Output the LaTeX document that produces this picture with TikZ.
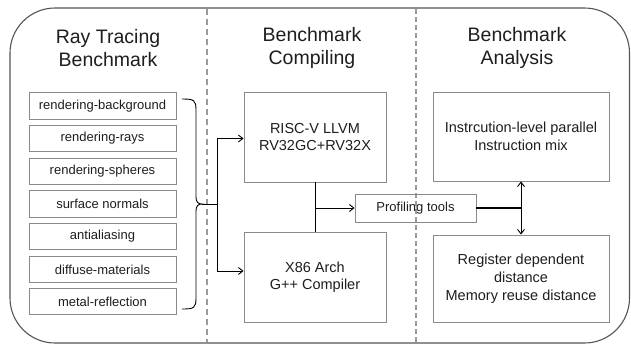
\documentclass[tikz,border=0pt]{standalone}
\usepackage{fontspec}
\setmainfont{Liberation Sans}
\usetikzlibrary{arrows.meta}
\definecolor{boxgray}{HTML}{8A8A8A}
\definecolor{framegray}{HTML}{555555}
\definecolor{dashgray}{HTML}{9A9A9A}
\definecolor{txt}{HTML}{1E1E1E}
\tikzset{
  x=1pt,y=-1pt,
  itembox/.style={draw=boxgray,line width=0.9pt,minimum width=147pt,minimum height=26.5pt,inner sep=0pt,font=\fontsize{13}{15}\selectfont,text=txt},
  bigbox/.style={draw=boxgray,line width=0.9pt,minimum width=142pt,minimum height=90pt,inner sep=0pt,align=center,font=\fontsize{14.5}{17}\selectfont,text=txt},
  anbox/.style={draw=boxgray,line width=0.9pt,minimum width=176pt,inner sep=0pt,align=center,font=\fontsize{14.5}{18}\selectfont,text=txt},
  title/.style={align=center,font=\fontsize{19.5}{23}\selectfont,text=txt},
  conn/.style={line width=0.9pt,black},
  arr/.style={conn,-{Straight Barb[length=4.5pt,width=7pt]}},
}
\begin{document}
\begin{tikzpicture}
\useasboundingbox (0,0) rectangle (631,346);
\fill[white] (0,0) rectangle (631,346);
% outer frame
\draw[framegray,line width=1.1pt,rounded corners=45pt] (10,8) rectangle (629.5,343);
% separators
\draw[dashgray,line width=2pt,dash pattern=on 6pt off 4pt] (207,9) -- (207,342);
\draw[dashgray,line width=1.2pt,dash pattern=on 5pt off 3pt] (416,9) -- (416,342);
% titles
\node[title] (t1) at (108,48) {Ray Tracing\\Benchmark};
\node[title] (t2) at (312,48) {Benchmark\\Compiling};
\node[title] (t3) at (517,48) {Benchmark\\Analysis};
% left items
\node[itembox] (b1) at (102.5,106) {rendering-background};
\node[itembox] (b2) at (102.5,138.5) {rendering-rays};
\node[itembox] (b3) at (102.5,171.5) {rendering-spheres};
\node[itembox] (b4) at (102.5,204) {surface normals};
\node[itembox] (b5) at (102.5,236.5) {antialiasing};
\node[itembox] (b6) at (102.5,269.5) {diffuse-materials};
\node[itembox] (b7) at (102.5,301.5) {metal-reflection};
% brace
\coordinate (bt) at (202,204);
\draw[conn] (182,99) .. controls (194,99) and (196,100) .. (196,110) -- (196,197) .. controls (196,202) and (198,204) .. (bt)
            .. controls (198,204) and (196,206) .. (196,211) -- (196,298) .. controls (196,308) and (194,309) .. (182,309);
\coordinate (j) at (217,204);
% compile boxes
\node[bigbox] (risc) at (315,137) {RISC-V LLVM\\RV32GC+RV32X};
\node[bigbox] (x86) at (315,277) {X86 Arch\\G++ Compiler};
\draw[conn] (bt) -- (j);
\draw[arr] (j) |- ([yshift=-1.5pt]risc.west);
\draw[arr] (j) |- ([yshift=6pt]x86.west);
% profiling
\node[draw=boxgray,line width=0.9pt,minimum width=121pt,minimum height=28pt,inner sep=0pt,font=\fontsize{13}{15}\selectfont,text=txt] (prof) at (415.5,208) {Profiling tools};
\draw[conn] (risc.south) -- (x86.north);
\coordinate (cj) at (315,208);
\draw[arr] (cj) -- (prof.west);
% analysis boxes
\node[anbox,minimum height=89pt] (ilp) at (521,136.5) {Instrcution-level parallel\\Instruction mix};
\node[anbox,minimum height=87pt] (reg) at (521,278.5) {Register dependent\\distance\\Memory reuse distance};
\coordinate (aj) at (521,208);
\draw[line width=2pt,black] (prof.east) -- (aj);
\draw[conn,{Straight Barb[length=4.5pt,width=7pt]}-{Straight Barb[length=4.5pt,width=7pt]}] (ilp.south) -- (reg.north);
\end{tikzpicture}
\end{document}
